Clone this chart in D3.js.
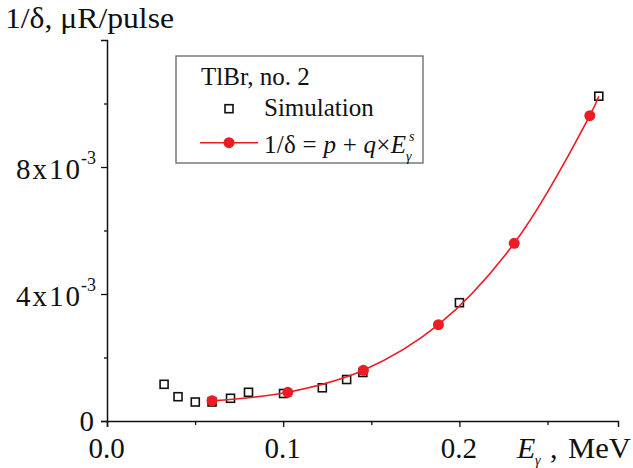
<!DOCTYPE html>
<html>
<head>
<meta charset="utf-8">
<script src="https://cdn.jsdelivr.net/npm/d3@7"></script>
<style>
  body { margin: 0; background: white; }
  svg text { font-family: "Liberation Serif", "Times New Roman", serif; fill: #111; }
</style>
</head>
<body>
<div id="chart"></div>
<script>
// Simulation points (open squares): E in MeV, 1/delta in uR/pulse
let simE = [0.0324, 0.0403, 0.0501, 0.0596, 0.0701, 0.0803, 0.1002, 0.1222, 0.136, 0.1452, 0.200, 0.2791];
let simV = [1.156e-3, 0.765e-3, 0.598e-3, 0.598e-3, 0.715e-3, 0.904e-3, 0.866e-3, 1.046e-3, 1.307e-3, 1.528e-3, 3.726e-3, 10.23e-3];

// Fit points (red dots)
let fitE = [0.0596, 0.1026, 0.1455, 0.1881, 0.2311, 0.274];
let fitV = [0.639e-3, 0.904e-3, 1.597e-3, 3.033e-3, 5.597e-3, 9.616e-3];

// Fit line (runs on to the last square)
let lineE = [0.0596, 0.1026, 0.1455, 0.1881, 0.2311, 0.274, 0.2791];
let lineV = [0.639e-3, 0.904e-3, 1.597e-3, 3.033e-3, 5.597e-3, 9.616e-3, 10.23e-3];

// Ticks
let xMajor = [0, 0.1, 0.2];
let xLabels = ["0.0", "0.1", "0.2"];
let xMinor = [0.05, 0.15, 0.25];
let yMajor = [0, 4e-3, 8e-3];
let yMantissa = ["0", "4x10", "8x10"];
let yMinor = [2e-3, 6e-3, 10e-3];

const W = 633, H = 468;
const red = "#ec1c24";

let svg = d3.select("#chart")
  .append("svg")
  .attr("width", W)
  .attr("height", H);

let x = d3.scaleLinear().domain([0, 0.29]).range([107, 618]);
let y = d3.scaleLinear().domain([0, 12e-3]).range([421, 40]);

// Axes
let xAxis = svg.append("g").attr("transform", `translate(0,${y(0)})`);
xAxis.call(d3.axisBottom(x).tickValues(xMajor).tickSize(6).tickFormat((d, i) => xLabels[i]));
xAxis.append("g").call(d3.axisBottom(x).tickValues(xMinor).tickSize(4).tickFormat(""));

let yAxis = svg.append("g").attr("transform", `translate(${x(0)},0)`);
yAxis.call(d3.axisLeft(y).tickValues(yMajor).tickSize(6).tickFormat(""));
yAxis.append("g").call(d3.axisLeft(y).tickValues(yMinor).tickSize(3).tickFormat(""));

svg.selectAll(".domain").attr("stroke", "#111").attr("stroke-width", 1.5);
svg.selectAll(".tick line").attr("stroke", "#111").attr("stroke-width", 1.3);
svg.selectAll("g g .domain").remove();

// x tick labels
xAxis.selectAll(".tick text")
  .attr("y", 0)
  .attr("dy", 0)
  .attr("transform", "translate(-1,37)")
  .attr("font-size", 29)
  .attr("font-family", "Liberation Serif, serif")
  .attr("fill", "#111");

// y tick labels with exponent
yMajor.forEach((v, i) => {
  if (v === 0) {
    svg.append("text")
      .attr("x", 94)
      .attr("y", y(v) + 9.5)
      .attr("text-anchor", "end")
      .attr("font-size", 29)
      .text(yMantissa[i]);
    return;
  }
  svg.append("text")
    .attr("x", 16)
    .attr("y", y(v) + 11.5)
    .attr("font-size", 29)
    .attr("textLength", 64)
    .attr("lengthAdjust", "spacing")
    .text(yMantissa[i]);
  svg.append("text")
    .attr("x", 81)
    .attr("y", y(v) - 3)
    .attr("font-size", 18)
    .text("-3");
});

// Axis titles
svg.append("text")
  .attr("x", 5)
  .attr("y", 28)
  .attr("font-size", 30)
  .attr("textLength", 169)
  .attr("lengthAdjust", "spacingAndGlyphs")
  .text("1/δ, μR/pulse");

svg.append("text")
  .attr("x", 517)
  .attr("y", 458)
  .attr("font-size", 30)
  .attr("font-style", "italic")
  .text("E");
svg.append("text")
  .attr("x", 535)
  .attr("y", 465)
  .attr("font-size", 14)
  .attr("font-style", "italic")
  .text("γ");
svg.append("text")
  .attr("x", 550)
  .attr("y", 458)
  .attr("font-size", 30)
  .text(",");
svg.append("text")
  .attr("x", 568)
  .attr("y", 458)
  .attr("font-size", 30)
  .attr("textLength", 63)
  .attr("lengthAdjust", "spacingAndGlyphs")
  .text("MeV");

// Fit line
let line = d3.line()
  .x((d, i) => x(lineE[i]))
  .y((d, i) => y(lineV[i]))
  .curve(d3.curveCatmullRom.alpha(0.5));

// Simulation squares
svg.append("g")
  .selectAll("rect")
  .data(simE)
  .join("rect")
  .attr("x", (d, i) => x(d) - 4)
  .attr("y", (d, i) => y(simV[i]) - 4)
  .attr("width", 8)
  .attr("height", 8)
  .attr("fill", "none")
  .attr("stroke", "#111")
  .attr("stroke-width", 1.6);

svg.append("path")
  .attr("d", line(lineE))
  .attr("fill", "none")
  .attr("stroke", red)
  .attr("stroke-width", 1.6);

svg.append("g")
  .selectAll("circle")
  .data(fitE)
  .join("circle")
  .attr("cx", d => x(d))
  .attr("cy", (d, i) => y(fitV[i]))
  .attr("r", 5.5)
  .attr("fill", red);

// Legend
let lg = svg.append("g");
lg.append("rect")
  .attr("x", 176)
  .attr("y", 56)
  .attr("width", 247)
  .attr("height", 107)
  .attr("fill", "white")
  .attr("stroke", "#666")
  .attr("stroke-width", 1.3);

lg.append("text")
  .attr("x", 201)
  .attr("y", 85)
  .attr("font-size", 25)
  .text("TlBr, no. 2");

lg.append("rect")
  .attr("x", 225)
  .attr("y", 104.7)
  .attr("width", 8)
  .attr("height", 8)
  .attr("fill", "none")
  .attr("stroke", "#111")
  .attr("stroke-width", 1.6);

lg.append("text")
  .attr("x", 264)
  .attr("y", 116)
  .attr("font-size", 25)
  .text("Simulation");

lg.append("line")
  .attr("x1", 200).attr("x2", 258)
  .attr("y1", 142.7).attr("y2", 142.7)
  .attr("stroke", red)
  .attr("stroke-width", 1.6);

lg.append("circle")
  .attr("cx", 229)
  .attr("cy", 142.7)
  .attr("r", 5.5)
  .attr("fill", red);

lg.append("text")
  .attr("x", 264)
  .attr("y", 153)
  .attr("font-size", 25)
  .attr("textLength", 142)
  .attr("lengthAdjust", "spacing")
  .html('1/δ = <tspan font-style="italic">p</tspan> + <tspan font-style="italic">q</tspan>×<tspan font-style="italic">E</tspan>');
lg.append("text")
  .attr("x", 406)
  .attr("y", 161)
  .attr("font-size", 14)
  .attr("font-style", "italic")
  .text("γ");
lg.append("text")
  .attr("x", 409)
  .attr("y", 141)
  .attr("font-size", 14)
  .attr("font-style", "italic")
  .text("s");
</script>
</body>
</html>
